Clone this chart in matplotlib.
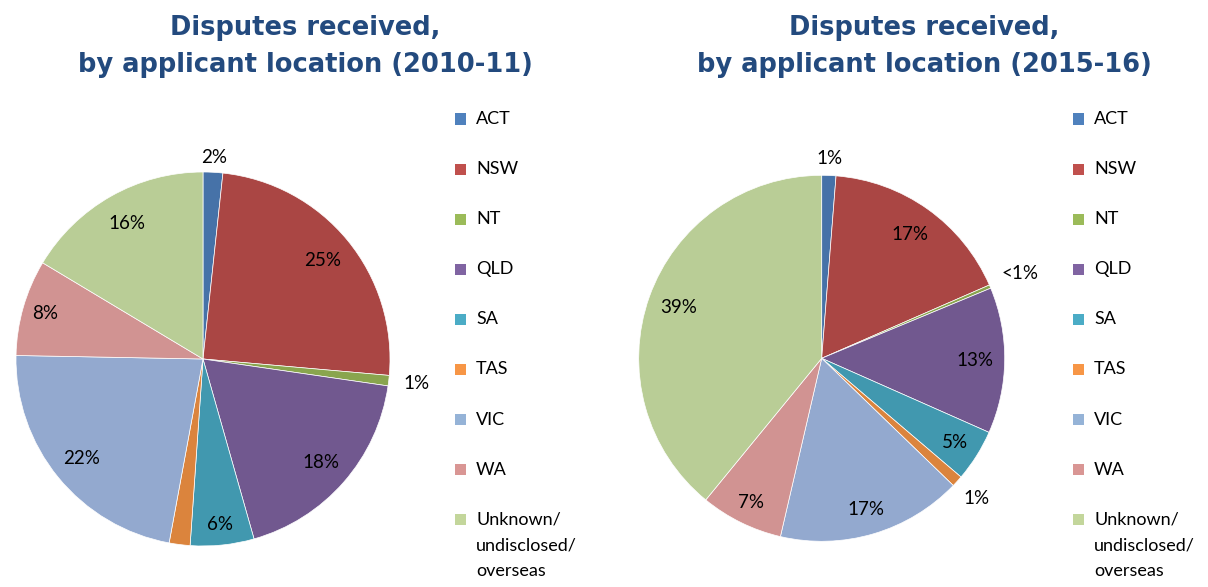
import matplotlib
matplotlib.use("Agg")
import matplotlib.pyplot as plt
from matplotlib.patches import Rectangle
import numpy as np

categories = ["ACT", "NSW", "NT", "QLD", "SA", "TAS", "VIC", "WA", "Unknown/\nundisclosed/\noverseas"]
values_2010 = [1.7, 24.7, 0.9, 18.3, 5.5, 1.8, 22.4, 8.3, 16.4]
labels_2010 = ["2%", "25%", "1%", "18%", "6%", "", "22%", "8%", "16%"]
values_2015 = [1.25, 17.2, 0.3, 12.9, 4.6, 1.0, 16.4, 7.3, 39.1]
labels_2015 = ["1%", "17%", "<1%", "13%", "5%", "1%", "17%", "7%", "39%"]
title_2010 = "Disputes received,\nby applicant location (2010-11)"
title_2015 = "Disputes received,\nby applicant location (2015-16)"

pie_colors = ["#4672A8", "#AA4644", "#89A54E", "#71588F", "#4198AF",
              "#DB843D", "#93A9CF", "#D19392", "#B9CD96"]
legend_colors = ["#4F81BD", "#C0504D", "#9BBB59", "#8064A2", "#4BACC6",
                 "#F79646", "#95B3D7", "#D99694", "#C3D69B"]

dist_2010 = [1.08, 0.83, 1.15, 0.84, 0.89, 1.1, 0.84, 0.88, 0.83]
dist_2015 = [1.09, 0.83, 1.18, 0.84, 0.86, 1.14, 0.86, 0.88, 0.83]

W, H = 1208, 587
fig = plt.figure(figsize=(W / 100, H / 100), dpi=100)
fig.patch.set_facecolor("white")

label_font = "Lato"
title_color = "#234A7E"


def draw_pie(cx, cy, r, values, labels, dists, title, title_cx, legend_x):
    ax = fig.add_axes([(cx - r) / W, (H - cy - r) / H, 2 * r / W, 2 * r / H])
    wedges, _ = ax.pie(values, colors=pie_colors, startangle=90, counterclock=False,
                       radius=1.0, wedgeprops=dict(edgecolor="white", linewidth=0.5))
    ax.set_xlim(-1, 1)
    ax.set_ylim(-1, 1)
    ax.set_aspect("equal")
    ax.axis("off")
    for w, lab, d in zip(wedges, labels, dists):
        if not lab:
            continue
        ang = np.deg2rad((w.theta1 + w.theta2) / 2)
        ax.text(d * np.cos(ang), d * np.sin(ang), lab, ha="center", va="center",
                fontsize=13.5, family=label_font, color="black")
    fig.text(title_cx / W, 1 - 46.5 / H, title, ha="center", va="center",
             fontsize=18.5, fontweight="bold", color=title_color,
             family="DejaVu Sans", linespacing=1.55)
    # legend
    sq = 11
    for i, (cat, col) in enumerate(zip(categories, legend_colors)):
        yc = 119 + 50.1 * i
        fig.patches.append(Rectangle((legend_x / W, (H - yc - sq / 2) / H), sq / W, sq / H,
                                     transform=fig.transFigure, facecolor=col,
                                     edgecolor="none"))
        multi = "\n" in cat
        fig.text((legend_x + 21) / W, (H - yc + 8) / H if multi else (H - yc) / H,
                 cat, ha="left", va="top" if multi else "center",
                 fontsize=13, family=label_font, color="black", linespacing=1.75)
    return ax


draw_pie(203, 359, 187, values_2010, labels_2010, dist_2010, title_2010, 305, 455)
draw_pie(821.7, 358.3, 183, values_2015, labels_2015, dist_2015, title_2015, 924, 1073)

fig.savefig("out.png", dpi=100, facecolor="white")
